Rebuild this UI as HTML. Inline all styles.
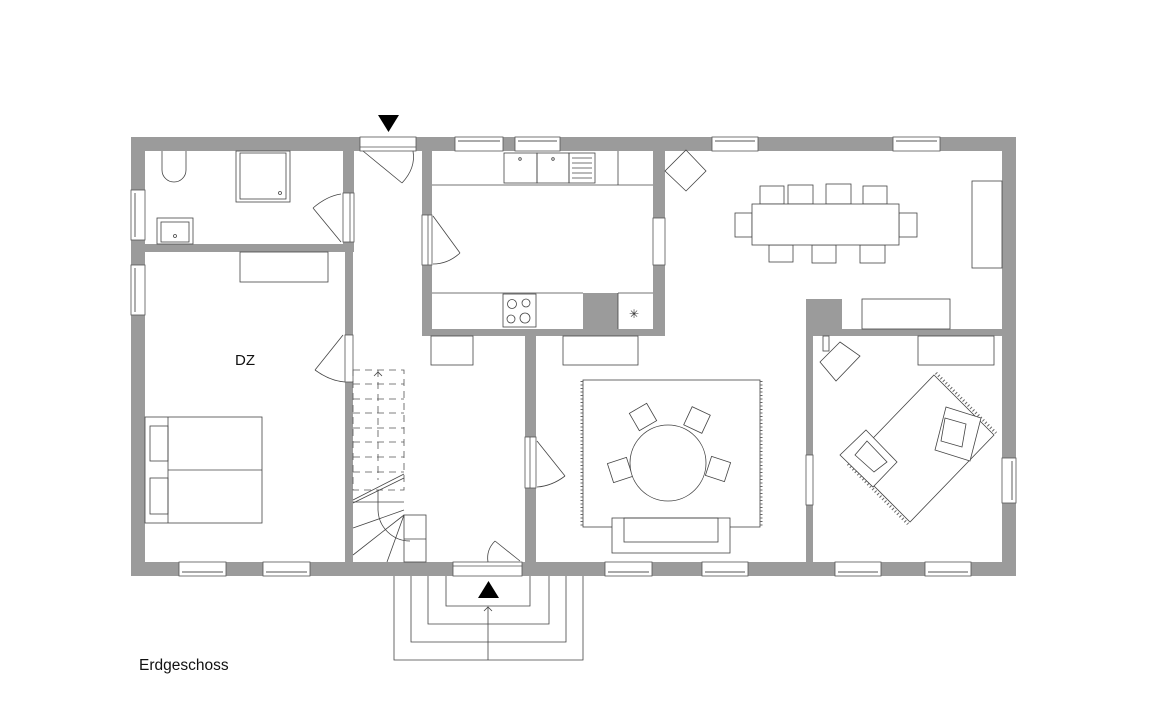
<!DOCTYPE html>
<html><head><meta charset="utf-8"><style>
html,body{margin:0;padding:0;background:#fff;}
svg{display:block}
text{font-family:"Liberation Sans",sans-serif;}
</style></head><body>
<svg width="1152" height="720" viewBox="0 0 1152 720" xmlns="http://www.w3.org/2000/svg">
<rect width="1152" height="720" fill="#fff"/>
<g fill="#9b9b9b">
<rect x="131" y="137" width="885" height="14"/>
<rect x="131" y="562" width="885" height="14"/>
<rect x="131" y="137" width="14" height="439"/>
<rect x="1002" y="137" width="14" height="439"/>
<rect x="145" y="244" width="208" height="8"/>
<rect x="343" y="151" width="11" height="101"/>
<rect x="345" y="244" width="8" height="318"/>
<rect x="422" y="151" width="10" height="185"/>
<rect x="422" y="329" width="243" height="7"/>
<rect x="653" y="151" width="12" height="185"/>
<rect x="583" y="293" width="35" height="37"/>
<rect x="525" y="336" width="11" height="226"/>
<rect x="806" y="299" width="36" height="37"/>
<rect x="806" y="329" width="196" height="7"/>
<rect x="806" y="299" width="7" height="263"/>
</g>
<g fill="#fff" stroke="#555" stroke-width="0.8">
<rect x="360" y="137" width="56" height="14"/>
<rect x="453" y="562" width="69" height="14"/>
<rect x="343" y="193" width="11" height="49"/>
<rect x="345" y="335" width="8" height="47"/>
<rect x="422" y="215" width="10" height="50"/>
<rect x="653" y="218" width="12" height="47"/>
<rect x="525" y="437" width="11" height="51"/>
<rect x="806" y="455" width="7" height="50"/>
</g>
<g stroke="#555" stroke-width="0.8" fill="none">
<line x1="360" y1="147" x2="416" y2="147"/>
<line x1="453" y1="566" x2="522" y2="566"/>
<line x1="350" y1="193" x2="350" y2="242"/>
<line x1="428" y1="215" x2="428" y2="265"/>
<line x1="530" y1="437" x2="530" y2="488"/>
</g>
<g fill="#fff" stroke="#555" stroke-width="0.8">
<rect x="455" y="137" width="48" height="14"/><rect x="515" y="137" width="45" height="14"/>
<rect x="712" y="137" width="46" height="14"/><rect x="893" y="137" width="47" height="14"/>
<rect x="179" y="562" width="47" height="14"/><rect x="263" y="562" width="47" height="14"/>
<rect x="605" y="562" width="47" height="14"/><rect x="702" y="562" width="46" height="14"/>
<rect x="835" y="562" width="46" height="14"/><rect x="925" y="562" width="46" height="14"/>
<rect x="131" y="190" width="14" height="50"/><rect x="131" y="265" width="14" height="50"/>
<rect x="1002" y="458" width="14" height="45"/>
</g>
<g stroke="#777" stroke-width="1.2">
<line x1="458" y1="141" x2="500" y2="141"/><line x1="518" y1="141" x2="557" y2="141"/>
<line x1="715" y1="141" x2="755" y2="141"/><line x1="896" y1="141" x2="937" y2="141"/>
<line x1="182" y1="572" x2="223" y2="572"/><line x1="266" y1="572" x2="307" y2="572"/>
<line x1="608" y1="572" x2="649" y2="572"/><line x1="705" y1="572" x2="745" y2="572"/>
<line x1="838" y1="572" x2="878" y2="572"/><line x1="928" y1="572" x2="968" y2="572"/>
<line x1="135" y1="193" x2="135" y2="237"/><line x1="135" y1="268" x2="135" y2="312"/>
<line x1="1012" y1="461" x2="1012" y2="500"/>
</g>
<g stroke="#444" stroke-width="0.8" fill="none">
<line x1="363" y1="151" x2="402" y2="183"/><path d="M402 183 Q416 168 413 151"/>
<line x1="341" y1="242" x2="313" y2="208"/><path d="M313 208 Q327 196 341 194"/>
<line x1="343" y1="335" x2="315" y2="370"/><path d="M315 370 Q330 381 345 382"/>
<line x1="433" y1="216" x2="460" y2="253"/><path d="M460 253 Q448 264 433 264"/>
<line x1="537" y1="441" x2="565" y2="476"/><path d="M565 476 Q552 486 537 487"/>
<line x1="520" y1="561" x2="495" y2="541"/><path d="M495 541 Q486 550 488 562"/>
<path d="M162 151 V170 A12 12 0 0 0 186 170 V151"/>
<rect x="236" y="151" width="54" height="51"/><rect x="240" y="153" width="46" height="46"/>
<circle cx="280" cy="193" r="1.5"/>
<rect x="157" y="218" width="36" height="26"/><rect x="161" y="222" width="28" height="20"/>
<circle cx="175" cy="236" r="1.5"/>
<rect x="240" y="252" width="88" height="30"/>
<rect x="145" y="417" width="117" height="106"/>
<line x1="168" y1="417" x2="168" y2="523"/><line x1="168" y1="470" x2="262" y2="470"/>
<rect x="150" y="426" width="18" height="35"/><rect x="150" y="478" width="18" height="36"/>
<line x1="432" y1="185" x2="653" y2="185"/>
<rect x="504" y="153" width="33" height="30"/><rect x="537" y="153" width="32" height="30"/>
<rect x="569" y="153" width="26" height="30"/>
<g stroke-width="0.7"><line x1="572" y1="158" x2="592" y2="158"/><line x1="572" y1="163" x2="592" y2="163"/><line x1="572" y1="168" x2="592" y2="168"/><line x1="572" y1="173" x2="592" y2="173"/><line x1="572" y1="178" x2="592" y2="178"/></g>
<circle cx="520" cy="159" r="1.3"/><circle cx="553" cy="159" r="1.3"/>
<line x1="618" y1="151" x2="618" y2="185"/>
<line x1="432" y1="293" x2="583" y2="293"/>
<line x1="618" y1="293" x2="653" y2="293"/><line x1="618" y1="293" x2="618" y2="329"/>
<rect x="503" y="294" width="33" height="33"/>
<circle cx="512" cy="304" r="4.5"/><circle cx="526" cy="303" r="4"/>
<circle cx="511" cy="319" r="4"/><circle cx="525" cy="318" r="5"/>
<rect x="431" y="336" width="42" height="29"/><rect x="563" y="336" width="75" height="29"/>
<rect x="583" y="380" width="177" height="147"/>
<g stroke-dasharray="1,2.5" stroke-width="3" stroke="#666">
<line x1="582" y1="381" x2="582" y2="526"/><line x1="761" y1="381" x2="761" y2="526"/>
</g>
<rect x="612" y="518" width="118" height="35" fill="#fff"/><rect x="624" y="518" width="94" height="24"/>
<g transform="rotate(-30 643 417)"><rect x="633" y="407" width="20" height="20" fill="#fff"/></g>
<g transform="rotate(25 697 420)"><rect x="687" y="410" width="20" height="20" fill="#fff"/></g>
<g transform="rotate(-18 620 470)"><rect x="610" y="460" width="20" height="20" fill="#fff"/></g>
<g transform="rotate(18 718 469)"><rect x="708" y="459" width="20" height="20" fill="#fff"/></g>
<circle cx="668" cy="463" r="38" fill="#fff"/>
<polygon points="686,150 706,171 686,191 665,171"/>
<rect x="760" y="186" width="24" height="18"/><rect x="788" y="185" width="25" height="19"/>
<rect x="826" y="184" width="25" height="20"/><rect x="863" y="186" width="24" height="18"/>
<rect x="769" y="245" width="24" height="17"/><rect x="812" y="245" width="24" height="18"/>
<rect x="860" y="245" width="25" height="18"/>
<rect x="735" y="213" width="17" height="24"/><rect x="899" y="213" width="18" height="24"/>
<rect x="752" y="204" width="147" height="41" fill="#fff"/>
<rect x="972" y="181" width="30" height="87"/>
<rect x="862" y="299" width="88" height="30"/>
<rect x="918" y="336" width="76" height="29"/>
<rect x="823" y="336" width="6" height="15"/>
<polygon points="840,342 860,356 836,381 820,362"/>
<g stroke-dasharray="1,2.5" stroke-width="3" stroke="#666">
<line x1="936" y1="373" x2="996" y2="433"/><line x1="848" y1="464" x2="908" y2="524"/>
</g>
<polygon points="934,375 994,435 910,522 850,462" fill="#fff"/>
<polygon points="866,430 897,462 873,487 840,455" fill="#fff"/>
<polygon points="867,441 887,462 874,472 855,455"/>
<polygon points="946,407 981,418 970,461 935,450" fill="#fff"/>
<polygon points="945,418 966,424 962,447 941,441"/>
<g stroke-dasharray="7,5" stroke="#555">
<rect x="353" y="370" width="51" height="120"/>
<line x1="378" y1="370" x2="378" y2="480"/>
<line x1="353" y1="384" x2="404" y2="384"/><line x1="353" y1="399" x2="404" y2="399"/>
<line x1="353" y1="413" x2="404" y2="413"/><line x1="353" y1="428" x2="404" y2="428"/>
<line x1="353" y1="442" x2="404" y2="442"/><line x1="353" y1="457" x2="404" y2="457"/>
<line x1="353" y1="472" x2="404" y2="472"/>
</g>
<path d="M374 376 L378 372 L382 376"/>
<line x1="353" y1="500" x2="404" y2="474"/><line x1="353" y1="503" x2="404" y2="478"/>
<line x1="353" y1="502" x2="404" y2="502"/>
<line x1="353" y1="528" x2="404" y2="510"/>
<line x1="353" y1="555" x2="404" y2="515"/>
<line x1="387" y1="562" x2="404" y2="515"/>
<path d="M378 490 V510 A32 32 0 0 0 410 541"/>
<rect x="404" y="515" width="22" height="47"/><line x1="404" y1="539" x2="426" y2="539"/>
<path d="M394 576 V660 H583 V576"/><path d="M411 576 V642 H566 V576"/>
<path d="M428 576 V624 H549 V576"/><path d="M446 576 V606 H530 V576"/>
<line x1="488" y1="660" x2="488" y2="607"/><path d="M484 611 L488 607 L492 611"/>
</g>
<polygon points="378,115 399,115 388.5,132" fill="#000"/>
<polygon points="478,598 499,598 488.5,581" fill="#000"/>
<text x="634" y="318" font-size="12" fill="#333" text-anchor="middle">✳</text>
<text x="245" y="365" font-size="15" fill="#111" text-anchor="middle">DZ</text>
<text x="139" y="670" font-size="15.5" fill="#111">Erdgeschoss</text>
</svg>
</body></html>
